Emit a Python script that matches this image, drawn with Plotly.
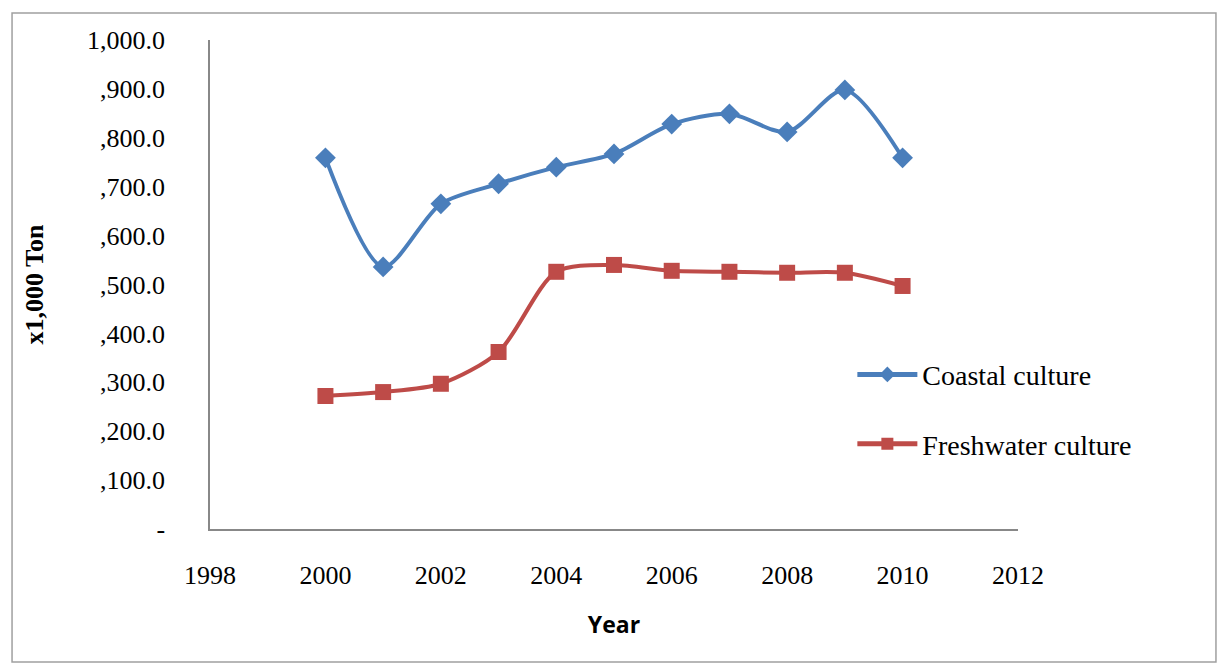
import plotly.graph_objects as go

years = [2000, 2001, 2002, 2003, 2004, 2005, 2006, 2007, 2008, 2009, 2010]
coastal = [759, 536, 665, 706, 740, 767, 828, 849, 812, 898, 759]
freshwater = [272, 280, 297, 362, 526, 540, 528, 526, 524, 524, 497]
y_ticks = [0, 100, 200, 300, 400, 500, 600, 700, 800, 900, 1000]
y_labels = ['-', ',100.0', ',200.0', ',300.0', ',400.0', ',500.0', ',600.0',
            ',700.0', ',800.0', ',900.0', '1,000.0']
x_ticks = [1998, 2000, 2002, 2004, 2006, 2008, 2010, 2012]

serif = 'Liberation Serif'

fig = go.Figure()
fig.add_trace(go.Scatter(
    x=years, y=coastal, name='Coastal culture', mode='lines+markers',
    legendgroup='a',
    line=dict(color='#4a7ebb', width=4, shape='spline', smoothing=0.8),
    marker=dict(symbol='diamond', size=16, color='#4a7ebb')))
fig.add_trace(go.Scatter(
    x=years, y=freshwater, name='Freshwater culture', mode='lines+markers',
    legendgroup='b',
    line=dict(color='#be4b48', width=4, shape='spline', smoothing=0.8),
    marker=dict(symbol='square', size=16, color='#be4b48')))

fig.update_layout(
    width=1225, height=664,
    paper_bgcolor='white', plot_bgcolor='white',
    margin=dict(l=202, r=215, t=32, b=143),
    font=dict(family=serif, size=26, color='black'),
    legend=dict(x=0.795, y=0.245, xanchor='left', yanchor='middle',
                font=dict(family=serif, size=28), itemsizing='constant',
                itemwidth=60, tracegroupgap=30, bgcolor='rgba(0,0,0,0)'),
    shapes=[dict(type='rect', xref='paper', yref='paper',
                 x0=-0.245, x1=1.245, y0=-0.272, y1=1.055,
                 line=dict(color='#a0a0a0', width=1.5))],
)
fig.update_xaxes(
    range=[1998, 2012], tickvals=x_ticks, showgrid=False, zeroline=False,
    showline=True, linecolor='#888', linewidth=1.5, ticks='outside',
    ticklen=22, tickcolor='rgba(0,0,0,0)', tickfont=dict(family=serif, size=26),
    title=dict(text='<b>Year</b>', font=dict(family='Open Sans', size=23), standoff=28))
fig.update_yaxes(
    range=[0, 1000], tickvals=y_ticks, ticktext=y_labels, showgrid=False,
    zeroline=False, showline=True, linecolor='#888', linewidth=1.5,
    ticks='outside', ticklen=38, tickcolor='rgba(0,0,0,0)',
    tickfont=dict(family=serif, size=26),
    title=dict(text='<b>x1,000 Ton</b>', font=dict(family=serif, size=26), standoff=36))

fig.write_html('out.html')
